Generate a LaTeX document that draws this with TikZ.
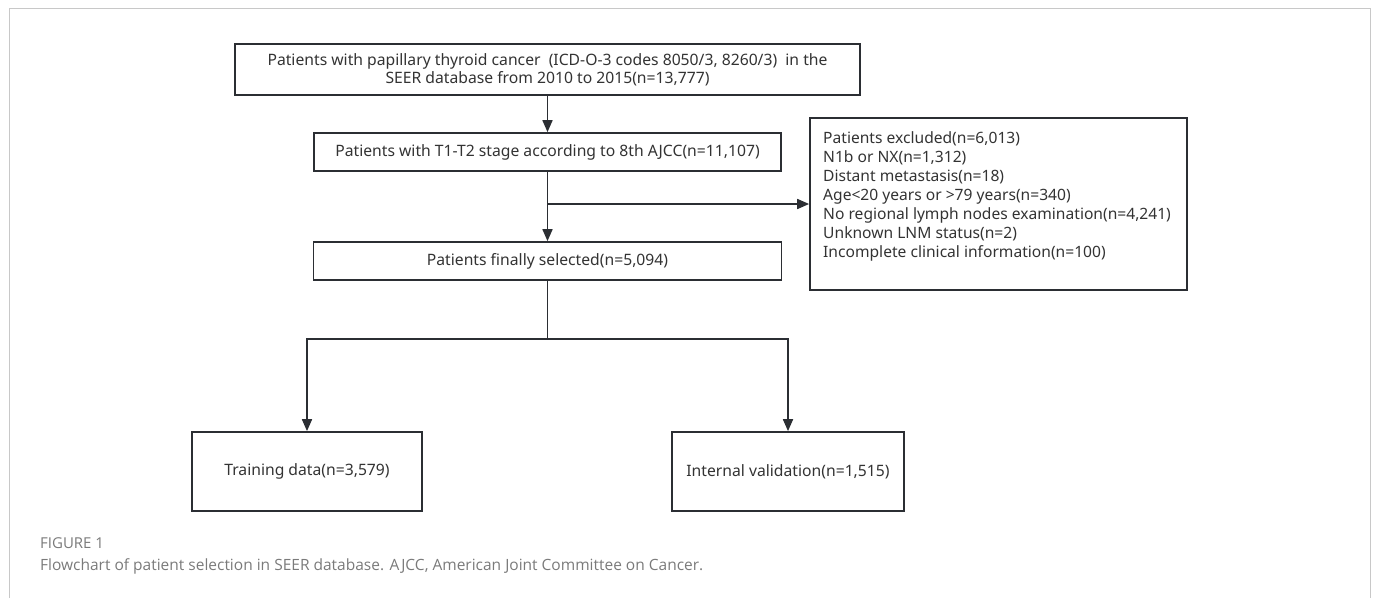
\documentclass[tikz,border=0pt]{standalone}
\usepackage{fontspec}
\setmainfont{Noto Sans}
\newfontfamily\capfont{Open Sans}
\usetikzlibrary{arrows.meta,positioning}
\definecolor{linegray}{HTML}{2B2E33}
\definecolor{textgray}{HTML}{333333}
\definecolor{framegray}{HTML}{C8C8C8}
\definecolor{capgray}{HTML}{7A7A7A}
\tikzset{
  flow box/.style={
    draw=linegray,
    line width=1.7pt,
    minimum width=#1,
    inner sep=0pt,
    text=textgray,
    font=\fontsize{15.7}{18}\selectfont,
  },
  list text/.style={
    anchor=north west,
    inner sep=0pt,
    align=left,
    text=textgray,
    font=\fontsize{15.6}{19}\selectfont,
  },
  flow line/.style={
    draw=linegray,
    line width=1.7pt,
  },
  flow arrow/.style={
    flow line,
    -{Triangle[length=12pt,width=10pt]},
  },
}

\begin{document}
\begin{tikzpicture}[x=1pt,y=-1pt]
        \useasboundingbox (0,0) rectangle (1376,598);
        \draw [framegray, line width=1pt] (9,598) -- (9,8) -- (1370,8) -- (1370,598);

        \node [flow box=625pt, minimum height=51pt, align=center] (seer) at (547.5,69.5)
              {Patients with papillary thyroid cancer~ (ICD-O-3 codes 8050/3, 8260/3)~ in the\\
               SEER database from 2010 to 2015(n=13,777)};
        \node [flow box=467pt, minimum height=38pt] (stage) at (547.5,152)
              {Patients with T1-T2 stage according to 8th AJCC(n=11,107)};
        \node [flow box=468pt, minimum height=38pt] (final) at (547.5,261)
              {Patients finally selected(n=5,094)};
        \node [flow box=377pt, minimum height=172pt] (excl) at (998.5,204) {};
        \node [list text] (excllist) at (823,131)
              {Patients excluded(n=6,013)\\
               N1b or NX(n=1,312)\\
               Distant metastasis(n=18)\\
               Age<20 years or >79 years(n=340)\\
               No regional lymph nodes examination(n=4,241)\\
               Unknown LNM status(n=2)\\
               Incomplete clinical information(n=100)};
        \node [flow box=230pt, minimum height=79pt] (train) at (307,471.5)
              {Training data(n=3,579)};
        \node [flow box=232pt, minimum height=79pt] (valid) at (788,471.5)
              {Internal validation(n=1,515)};

        \coordinate (branch) at (stage.south |- excl.west);
        \coordinate (split) at (547.5,339);
        \draw [flow arrow] (seer) -- (stage);
        \draw [flow arrow] (stage) -- (final);
        \draw [flow arrow] (branch) -- (excl.west);
        \draw [flow line] (final) -- (split);
        \draw [flow arrow] (split) -| (train.north);
        \draw [flow arrow] (split) -| (valid.north);

        % caption
        \node [anchor=west, inner sep=0pt, text=capgray, font=\capfont\fontsize{15}{17}\selectfont] (figlabel) at (40,543) {FIGURE 1};
        \node [anchor=west, inner sep=0pt, text=capgray, font=\capfont\fontsize{15.5}{18}\selectfont] (figcaption) at (40,566)
              {Flowchart of patient selection in SEER database. AJCC, American Joint Committee on Cancer.};
    \end{tikzpicture}
\end{document}
